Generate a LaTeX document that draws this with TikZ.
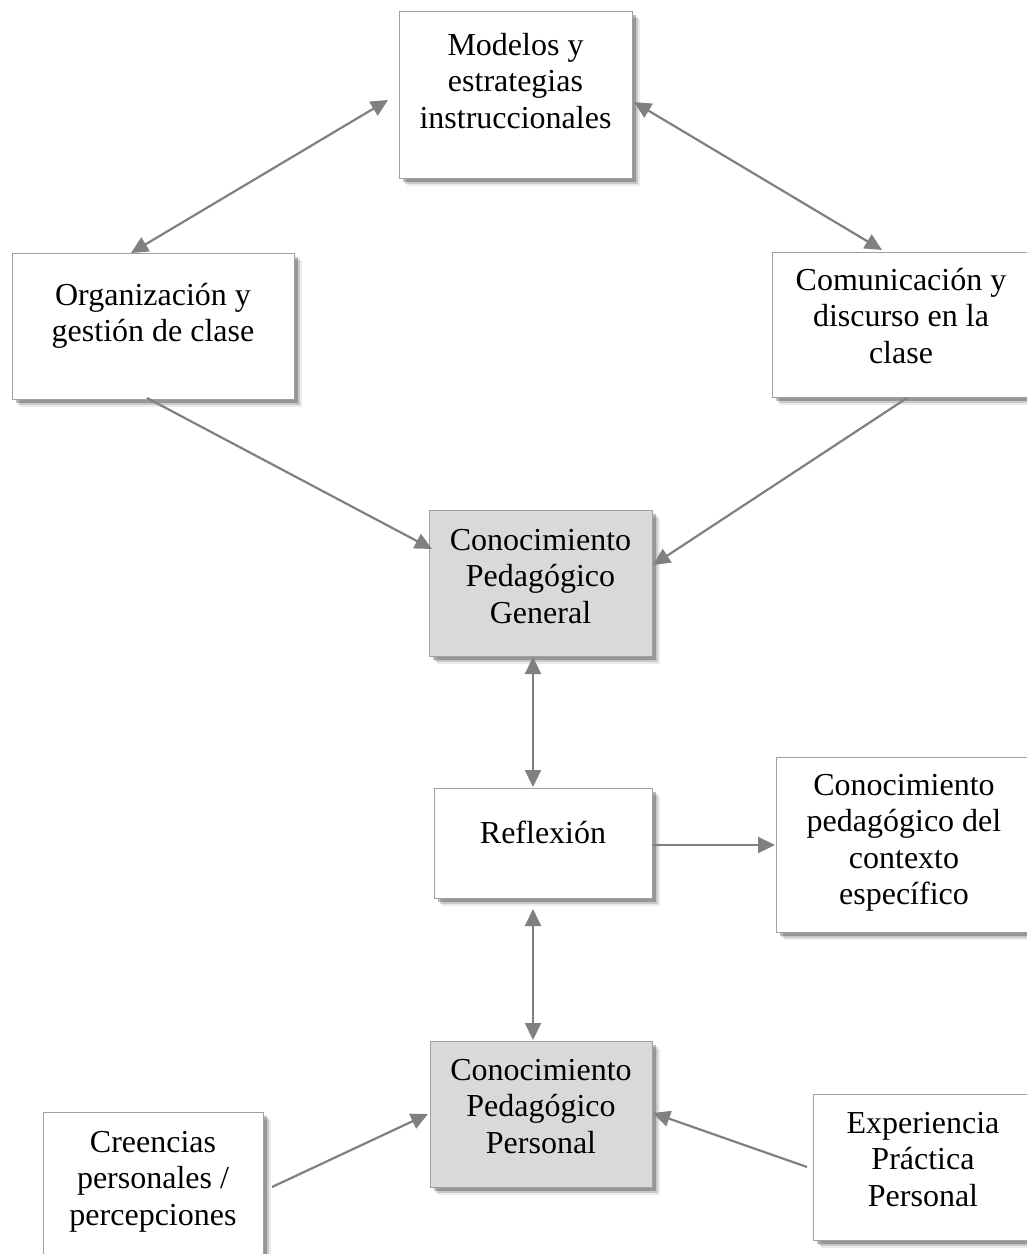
\documentclass[tikz,border=0pt]{standalone}
\usepackage{fontspec}
\setmainfont{Liberation Serif}
\usetikzlibrary{arrows.meta,shadows,calc}
\definecolor{boxline}{HTML}{A0A0A0}
\definecolor{boxgray}{HTML}{D9D9D9}
\definecolor{arrowgray}{HTML}{808080}
\tikzset{
  box/.style={draw=boxline, line width=1.3pt, fill=white, anchor=north west, inner sep=0pt,
    drop shadow={shadow xshift=7pt, shadow yshift=-7pt, fill=black, opacity=0.08},
    drop shadow={shadow xshift=5pt, shadow yshift=-5pt, fill=black, opacity=0.15},
    drop shadow={shadow xshift=3pt, shadow yshift=-3pt, fill=black, opacity=0.25}},
  graybox/.style={box, fill=boxgray},
  txt/.style={anchor=north, inner sep=0pt, align=center, font=\fontsize{32}{36.5}\selectfont},
  conn/.style={draw=arrowgray, line width=2.2pt, -{Triangle[length=17pt,width=16pt]}},
  bconn/.style={draw=arrowgray, line width=2.2pt, {Triangle[length=17pt,width=16pt]}-{Triangle[length=17pt,width=16pt]}}
}
\begin{document}
\begin{tikzpicture}[x=1pt,y=1pt]
\useasboundingbox (0,0) rectangle (1027,-1254);
% boxes
\node[box, minimum width=233pt, minimum height=167pt] (mod) at (399,-11) {};
\node[box, minimum width=282pt, minimum height=146pt] (org) at (12,-253) {};
\node[box, minimum width=258pt, minimum height=145pt] (com) at (772,-252) {};
\node[graybox, minimum width=223pt, minimum height=146pt] (cpg) at (429,-510) {};
\node[box, minimum width=218pt, minimum height=110pt] (ref) at (434,-788) {};
\node[box, minimum width=256pt, minimum height=175pt] (ctx) at (776,-757) {};
\node[graybox, minimum width=222pt, minimum height=146pt] (cpp) at (430,-1041) {};
\node[box, minimum width=220pt, minimum height=170pt] (cre) at (43,-1112) {};
\node[box, minimum width=220pt, minimum height=146pt] (exp) at (813,-1094) {};
% texts
\node[txt] (modt) at ($(mod.north west)+(116.5,-18.45)$) {\strut Modelos y\\estrategias\\instruccionales};
\node[txt] (orgt) at ($(org.north west)+(141,-26.45)$) {\strut Organización y\\gestión de clase};
\node[txt] (comt) at ($(com.north west)+(129,-12.45)$) {\strut Comunicación y\\discurso en la\\clase};
\node[txt] (cpgt) at ($(cpg.north west)+(111.5,-14.45)$) {\strut Conocimiento\\Pedagógico\\General};
\node[txt] (reft) at ($(ref.north west)+(109,-29.45)$) {\strut Reflexión};
\node[txt] (ctxt) at ($(ctx.north west)+(128,-12.45)$) {\strut Conocimiento\\pedagógico del\\contexto\\específico};
\node[txt] (cppt) at ($(cpp.north west)+(111,-13.45)$) {\strut Conocimiento\\Pedagógico\\Personal};
\node[txt] (cret) at ($(cre.north west)+(110,-14.45)$) {\strut Creencias\\personales /\\percepciones};
\node[txt] (expt) at ($(exp.north west)+(110,-13.45)$) {\strut Experiencia\\Práctica\\Personal};
% connectors
\draw[bconn] ($(org.north west)+(119,0)$) -- ($(mod.north west)+(-11,-89)$);
\draw[bconn] ($(mod.north west)+(235,-91)$) -- ($(com.north west)+(110,2)$);
\draw[conn] ($(org.north west)+(135,-145)$) -- ($(cpg.north west)+(3,-39)$);
\draw[conn] ($(com.north west)+(135,-146)$) -- ($(cpg.north west)+(224,-55)$);
\draw[bconn] ($(cpg.north west)+(104,-147)$) -- ($(ref.north west)+(99,1)$);
\draw[conn] ($(ref.north west)+(218,-57)$) -- ($(ctx.north west)+(-1,-88)$);
\draw[bconn] ($(ref.north west)+(99,-121)$) -- ($(cpp.north west)+(103,1)$);
\draw[conn] ($(cre.north west)+(229,-75)$) -- ($(cpp.north west)+(-2,-73)$);
\draw[conn] ($(exp.north west)+(-6,-73)$) -- ($(cpp.north west)+(223,-72)$);
\end{tikzpicture}
\end{document}
